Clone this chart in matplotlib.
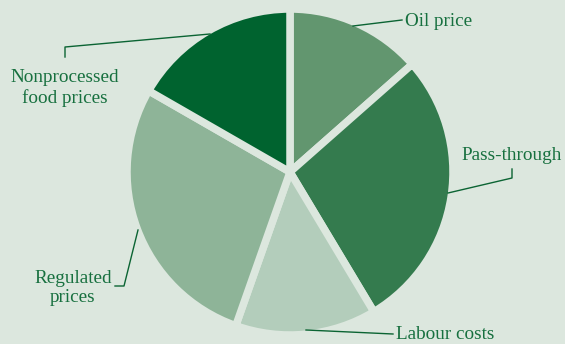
import matplotlib
matplotlib.use("Agg")
import matplotlib.pyplot as plt

plt.rcParams["font.family"] = ["Liberation Serif", "DejaVu Serif"]

# Data (shares, clockwise from 12 o'clock)
categories = ["Oil price", "Pass-through", "Labour costs", "Regulated prices", "Nonprocessed food prices"]
values = [13.5, 27.9, 14.0, 27.9, 16.7]
colors = ["#62966f", "#347b4e", "#b3cdbb", "#8eb498", "#00632f"]

BG = "#dce7de"
TXT = "#17703f"
LINE = "#0b6433"

W, H = 565, 344
fig = plt.figure(figsize=(W / 100, H / 100), dpi=100, facecolor=BG)
ax = fig.add_axes([0, 0, 1, 1])
ax.set_facecolor(BG)

cx, cy = 290, H - 172
ax.pie(values, colors=colors, startangle=90, counterclock=False,
       center=(cx, cy), radius=163, frame=True,
       wedgeprops=dict(edgecolor=BG, linewidth=5.4))
ax.set_xlim(0, W)
ax.set_ylim(0, H)
ax.set_aspect("equal")
ax.axis("off")

def Y(y):
    return H - y

fs = 13.8
font = dict(size=fs, color=TXT)

# Oil price
ax.plot([353, 402], [Y(26), Y(20)], color=LINE, lw=1.0)
ax.text(405, Y(22), "Oil price", ha="left", va="center", **font)

# Pass-through
ax.plot([448, 512, 512], [Y(193), Y(178), Y(169)], color=LINE, lw=1.0)
ax.text(461, Y(155), "Pass-through", ha="left", va="center", **font)

# Labour costs
ax.plot([306, 393], [Y(330), Y(334)], color=LINE, lw=1.0)
ax.text(396, Y(334.5), "Labour costs", ha="left", va="center", **font)

# Regulated prices
ax.plot([138, 124, 115], [Y(230), Y(286), Y(286)], color=LINE, lw=1.0)
ax.text(73, Y(288), "Regulated\nprices", ha="center", va="center",
        linespacing=1.2, **font)

# Nonprocessed food prices
ax.plot([210, 65, 65], [Y(34), Y(47), Y(57)], color=LINE, lw=1.0)
ax.text(65, Y(88), "Nonprocessed\nfood prices", ha="center", va="center",
        linespacing=1.2, **font)

fig.savefig("out.png", dpi=100, facecolor=BG)
